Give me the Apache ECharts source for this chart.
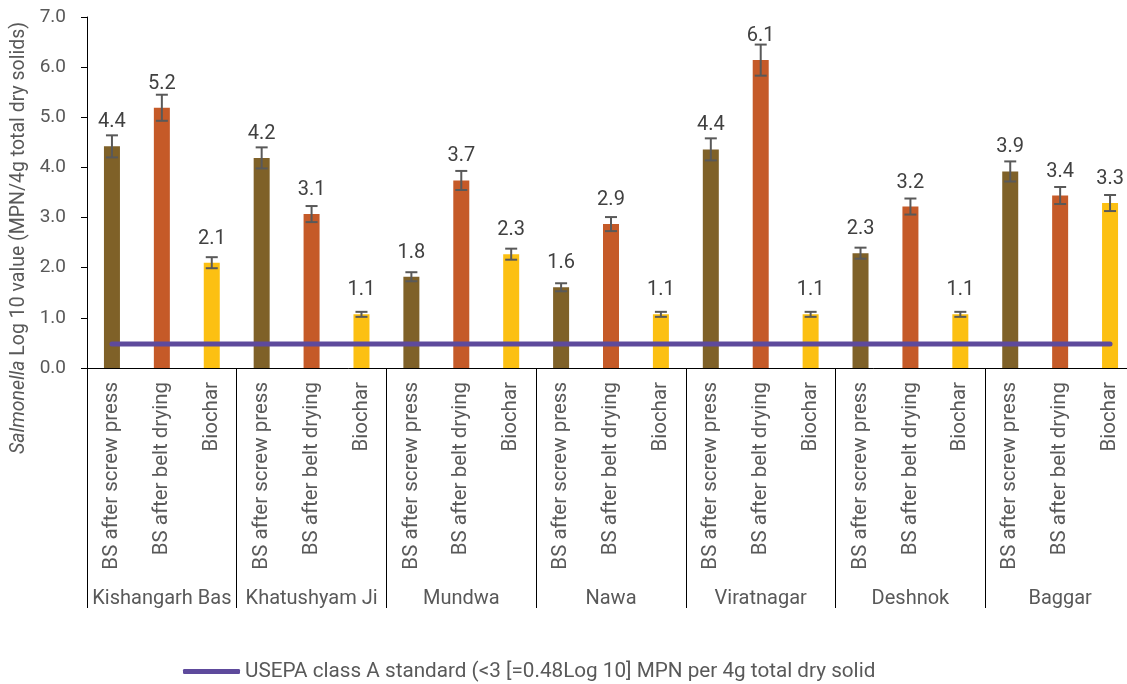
<!DOCTYPE html>
<html>
<head>
<meta charset="utf-8">
<script src="https://cdn.jsdelivr.net/npm/echarts@6/dist/echarts.min.js"></script>
<style>
html,body{margin:0;padding:0;background:#fff;overflow:hidden;width:1127px;height:684px;}
#chart{width:1136px;height:684px;}
</style>
</head>
<body>
<div id="chart"></div>
<script>
const groups = ['Kishangarh Bas','Khatushyam Ji','Mundwa','Nawa','Viratnagar','Deshnok','Baggar'];
const stages = ['BS after screw press','BS after belt drying','Biochar'];
const values = [4.42,5.19,2.10, 4.19,3.07,1.07, 1.82,3.74,2.27, 1.61,2.87,1.07, 4.36,6.14,1.07, 2.29,3.22,1.07, 3.92,3.44,3.29];
const errors = [0.22,0.26,0.11, 0.21,0.16,0.05, 0.09,0.19,0.11, 0.08,0.14,0.05, 0.22,0.31,0.05, 0.11,0.16,0.05, 0.20,0.17,0.16];
const standardName = 'USEPA class A standard (<3 [=0.48Log 10] MPN per 4g total dry solid';
const standard = [0.48,0.48,0.48, 0.48,0.48,0.48, 0.48,0.48,0.48, 0.48,0.48,0.48, 0.48,0.48,0.48, 0.48,0.48,0.48, 0.48,0.48,0.48];
const yTicks = [0,1,2,3,4,5,6,7];

const stageColors = ['#7F6128','#C55A28','#FCC012'];
const FONT = 'Roboto';

const categories = [];
groups.forEach(g => stages.forEach(s => categories.push(s)));

const chart = echarts.init(document.getElementById('chart'));
chart.setOption({
  animation: false,
  backgroundColor: '#ffffff',
  textStyle: { fontFamily: FONT },
  grid: { left: 87, width: 1048, top: 17, height: 351, containLabel: false },
  legend: {
    left: 178, top: 656,
    data: [standardName],
    icon: 'roundRect',
    itemWidth: 57, itemHeight: 5,
    textStyle: { fontFamily: FONT, fontSize: 20.7, color: '#595959' }
  },
  graphic: [{
    type: 'text',
    x: 19, y: 238,
    rotation: Math.PI / 2,
    style: {
      text: '{i|Salmonella} Log 10 value (MPN/4g total dry solids)',
      align: 'center', verticalAlign: 'middle',
      fill: '#595959',
      font: '19.5px Roboto',
      rich: { i: { fontStyle: 'italic', fontSize: 19.5, fontFamily: FONT, fill: '#595959' } }
    }
  }],
  xAxis: [{
    type: 'category',
    data: categories,
    axisLine: { show: true, lineStyle: { color: '#000', width: 1 } },
    axisTick: { show: false },
    axisLabel: { interval: 0, rotate: 90, margin: 14, fontFamily: FONT, fontSize: 20.5, color: '#595959' }
  }, {
    type: 'category',
    data: groups,
    position: 'bottom',
    axisLine: { show: false },
    axisTick: { show: true, length: 240, interval: 0, lineStyle: { color: '#000', width: 1 } },
    axisLabel: { interval: 0, margin: 221, fontFamily: FONT, fontSize: 20, color: '#595959' }
  }],
  yAxis: {
    type: 'value',
    min: 0, max: 7, interval: 1,
    axisLine: { show: true, lineStyle: { color: '#000', width: 1 } },
    axisTick: { show: true, length: 6, lineStyle: { color: '#000' } },
    splitLine: { show: false },
    axisLabel: { margin: 21, fontFamily: FONT, fontSize: 19, color: '#595959',
      formatter: v => yTicks.indexOf(v) >= 0 ? v.toFixed(1) : '' }
  },
  series: [{
    type: 'bar',
    xAxisIndex: 0,
    barWidth: 16,
    data: values.map((v, i) => ({ value: v, itemStyle: { color: stageColors[i % 3] } })),
    label: {
      show: true, position: 'top', distance: 14,
      fontFamily: FONT, fontSize: 20, color: '#404040',
      formatter: p => p.value.toFixed(1)
    },
    z: 2
  }, {
    type: 'custom',
    xAxisIndex: 0,
    data: values.map((v, i) => [i, v, errors[i]]),
    renderItem: function (params, api) {
      const x = api.value(0), v = api.value(1), e = api.value(2);
      const top = api.coord([x, v + e]);
      const bot = api.coord([x, v - e]);
      const hw = 6;
      const st = { stroke: '#595959', lineWidth: 2 };
      return {
        type: 'group',
        children: [
          { type: 'line', shape: { x1: top[0], y1: top[1], x2: bot[0], y2: bot[1] }, style: st },
          { type: 'line', shape: { x1: top[0]-hw, y1: top[1], x2: top[0]+hw, y2: top[1] }, style: st },
          { type: 'line', shape: { x1: bot[0]-hw, y1: bot[1], x2: bot[0]+hw, y2: bot[1] }, style: st }
        ]
      };
    },
    z: 3
  }, {
    name: standardName,
    type: 'line',
    xAxisIndex: 0,
    data: standard,
    symbol: 'none',
    itemStyle: { color: '#5E4A9C' },
    lineStyle: { color: '#5E4A9C', width: 5, cap: 'round' },
    z: 4
  }]
});
</script>
</body>
</html>
